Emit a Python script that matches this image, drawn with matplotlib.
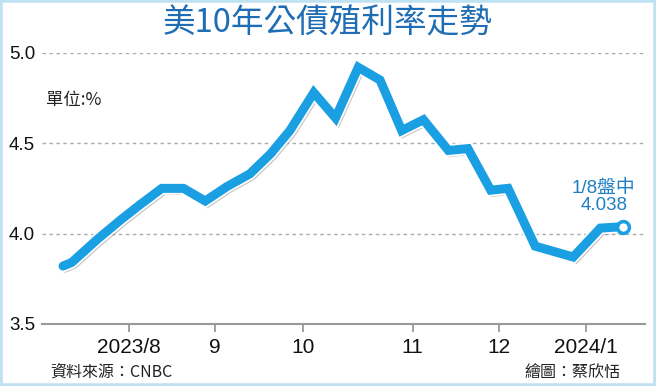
import matplotlib
matplotlib.use("Agg")
import matplotlib.pyplot as plt
import matplotlib.patheffects as pe
from matplotlib import font_manager
from matplotlib.patches import Rectangle

names = {f.name for f in font_manager.fontManager.ttflist}
num_font = "Liberation Sans Narrow" if "Liberation Sans Narrow" in names else "Liberation Sans"
cjk = ["Noto Sans CJK TC", "DejaVu Sans"]

# weekly observations (x = week number from mid-July 2023), yield in %
weeks = [0, 0.4, 1.6, 2.7, 3.55, 4.55, 5.55, 6.55, 7.55, 8.6, 9.55, 10.45,
         11.55, 12.55, 13.6, 14.6, 15.6, 16.6, 17.75, 18.65, 19.7, 20.5,
         21.75, 23.5, 24.75, 25.8]
yields = [3.82, 3.84, 3.97, 4.08, 4.16, 4.25, 4.25, 4.18, 4.26, 4.33, 4.44, 4.57,
          4.78, 4.64, 4.92, 4.85, 4.57, 4.63, 4.46, 4.47, 4.24, 4.25,
          3.93, 3.87, 4.03, 4.038]
month_pos = [3.05, 7.0, 11.05, 16.1, 20.1, 24.1]
month_labels = ["2023/8", "9", "10", "11", "12", "2024/1"]
yticks = [3.5, 4.0, 4.5, 5.0]

blue = "#1a9fe2"
title_blue = "#1f6db4"

fig = plt.figure(figsize=(6.56, 3.86), dpi=100)
fig.patches.append(Rectangle((0, 0), 1, 1, transform=fig.transFigure, fill=False,
                             edgecolor="#bfe2f2", lw=4))
ax = fig.add_axes([0.064, 0.161, 0.919, 0.702])

ax.plot(weeks, yields, color=blue, lw=6.5, solid_joinstyle="miter",
        solid_capstyle="round", zorder=3,
        path_effects=[pe.SimpleLineShadow(offset=(1.5, -1.5), shadow_color="#555555", alpha=0.35),
                      pe.Stroke(linewidth=9, foreground="white"), pe.Normal()])
ax.plot(weeks[-1], yields[-1], "o", ms=8.5, mfc="white", mec=blue, mew=2.5, zorder=4)

ax.set_ylim(3.5, 5.0)
ax.set_xlim(-0.97, 26.8)
for y in yticks[1:]:
    ax.axhline(y, color="#aaaaaa", lw=1, ls=(0, (2.5, 2.5)), zorder=1)

for s in ["top", "right", "left"]:
    ax.spines[s].set_visible(False)
ax.spines["bottom"].set_color("#999999")
ax.spines["bottom"].set_linewidth(1.5)

ax.set_xticks(month_pos)
ax.set_xticklabels(month_labels, fontsize=15, family=num_font, color="#111111")
ax.tick_params(axis="x", length=6, width=1.3, color="#999999", pad=4)
ax.set_yticks(yticks)
ax.set_yticklabels([f"{v:.1f}" for v in yticks], fontsize=13.5, family=num_font, color="#111111")
ax.tick_params(axis="y", length=0, pad=5)

fig.text(0.5, 0.94, "美10年公債殖利率走勢", ha="center", va="center", fontsize=23.5,
         color=title_blue, family=cjk, fontweight="medium")
fig.text(0.07, 0.74, "單位:%", ha="left", va="center", fontsize=12.5, color="#222222", family=cjk)
ax.annotate("1/8盤中\n4.038", (weeks[-1], yields[-1]), xytext=(-14, 9),
            textcoords="offset points", ha="center", va="bottom", fontsize=13.5,
            color="#1f7fc4", family=[num_font, "Noto Sans CJK TC"], linespacing=1.05)
fig.text(0.076, 0.035, "資料來源：CNBC", ha="left", va="center", fontsize=11.5, color="#222222", family=cjk)
fig.text(0.946, 0.035, "繪圖：蔡欣恬", ha="right", va="center", fontsize=11.5, color="#222222", family=cjk)

fig.savefig("out.png", dpi=100)
